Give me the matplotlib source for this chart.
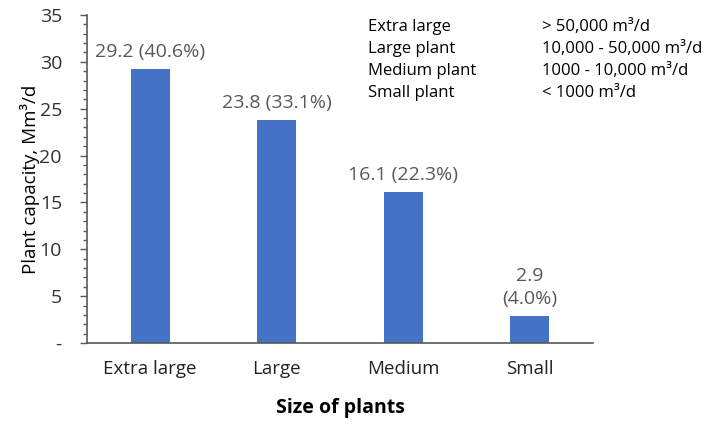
import matplotlib
matplotlib.use("Agg")
import matplotlib.pyplot as plt
from matplotlib.ticker import MultipleLocator, FuncFormatter

categories = ["Extra large", "Large", "Medium", "Small"]
capacity = [29.2, 23.8, 16.1, 2.9]
labels = ["29.2 (40.6%)", "23.8 (33.1%)", "16.1 (22.3%)", "2.9\n(4.0%)"]
legend_names = ["Extra large", "Large plant", "Medium plant", "Small plant"]
legend_ranges = ["> 50,000 m\u00b3/d", "10,000 - 50,000 m\u00b3/d",
                 "1000 - 10,000 m\u00b3/d", "< 1000 m\u00b3/d"]
yticks = [0, 5, 10, 15, 20, 25, 30, 35]

plt.rcParams['font.family'] = ['Open Sans', 'DejaVu Sans']

fig = plt.figure(figsize=(7.1, 4.24), dpi=100)
ax = fig.add_axes([0.1225, 0.191, 0.7127, 0.7736])

x = list(range(len(categories)))
ax.bar(x, capacity, width=0.31, color="#4472C4")
ax.set_xlim(-0.5, len(categories) - 0.5)
ax.set_ylim(0, 35)
ax.set_xticks(x)
ax.set_xticklabels(categories, fontsize=13.5, color="#222222")
ax.set_yticks(yticks)
ax.yaxis.set_major_formatter(FuncFormatter(lambda v, p: "-" if v == 0 else f"{int(v)}"))
ax.yaxis.set_minor_locator(MultipleLocator(1))
ax.tick_params(axis='y', which='major', length=5, width=1, color="#595959",
               labelsize=14, labelcolor="#333333", pad=13)
ax.tick_params(axis='y', which='minor', length=3, width=1, color="#595959")
ax.tick_params(axis='x', length=0, pad=12)

for s in ["top", "right"]:
    ax.spines[s].set_visible(False)
for s in ["left", "bottom"]:
    ax.spines[s].set_color("#595959")
    ax.spines[s].set_linewidth(1.2)

for xi, v, lab in zip(x, capacity, labels):
    ax.annotate(lab, (xi, v), xytext=(0, 6), textcoords="offset points",
                ha="center", va="bottom", fontsize=14, color="#595959",
                linespacing=1.3)

ax.set_ylabel("Plant capacity, Mm\u00b3/d", fontsize=13.5, color="#000000", va="center")
ax.yaxis.set_label_coords(-0.113, 0.5)
ax.set_xlabel("Size of plants", fontsize=14, fontweight="bold", va="center")
ax.xaxis.set_label_coords(0.5, -0.198)

ys = [0.936, 0.884, 0.833, 0.781]
for yy, n, r in zip(ys, legend_names, legend_ranges):
    fig.text(0.518, yy, n, fontsize=12, va="center", ha="left")
    fig.text(0.763, yy, r, fontsize=12, va="center", ha="left")

fig.savefig("out.png", dpi=100)
